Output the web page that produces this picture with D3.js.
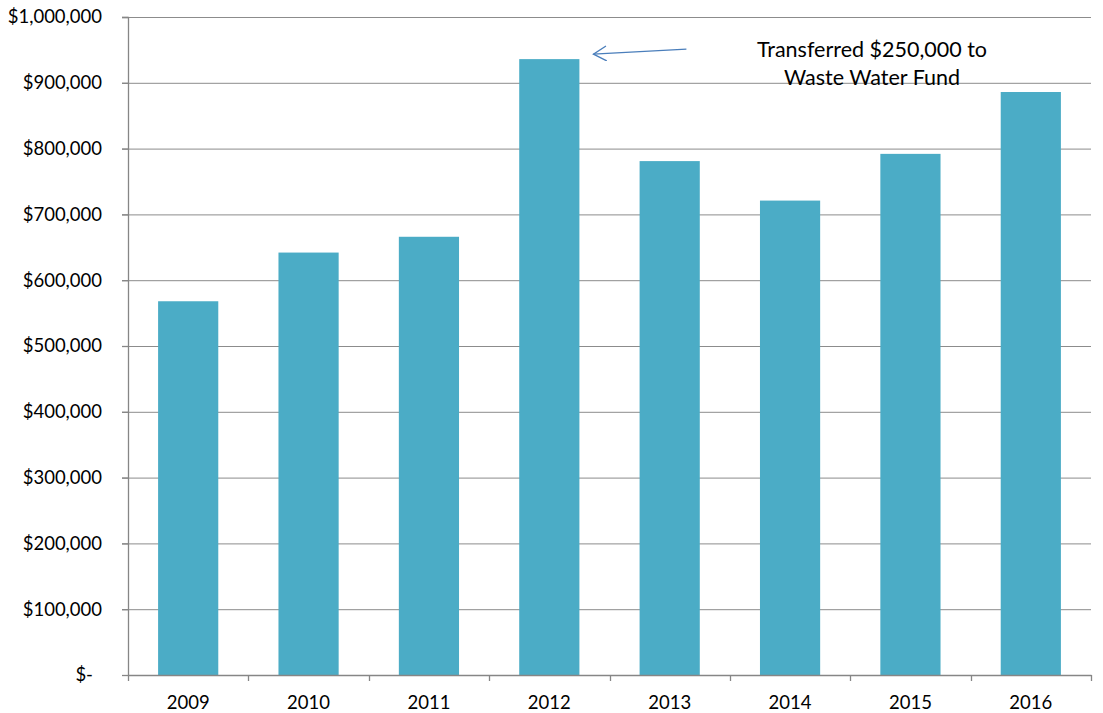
<!DOCTYPE html>
<html>
<head>
<meta charset="utf-8">
<script src="https://cdn.jsdelivr.net/npm/d3@7"></script>
<style>
  body { margin: 0; background: #fff; }
  text { font-family: Lato, "Open Sans", sans-serif; fill: #000; }
</style>
</head>
<body>
<script>
// chart data
var years = ["2009", "2010", "2011", "2012", "2013", "2014", "2015", "2016"];
var balances = [568000, 642000, 666000, 936000, 781000, 721000, 792000, 886000];
var yTicks = [0, 100000, 200000, 300000, 400000, 500000, 600000, 700000, 800000, 900000, 1000000];
var noteLines = ["Transferred $250,000 to", "Waste Water Fund"];

var width = 1103;
var height = 713;
var margin = { top: 17, right: 12, bottom: 38, left: 128 };

var svg = d3.select("body")
    .append("svg")
    .attr("width", width)
    .attr("height", height);

var innerW = width - margin.left - margin.right;
var innerH = height - margin.top - margin.bottom;

var g = svg.append("g")
    .attr("transform", "translate(" + margin.left + "," + margin.top + ")");

var x = d3.scaleBand()
    .domain(years)
    .range([0, innerW])
    .paddingInner(0.5)
    .paddingOuter(0.25);

var y = d3.scaleLinear()
    .domain([0, 1000000])
    .range([innerH, 0]);

var fmt = d3.format(",");

// gridlines
g.selectAll(".grid")
    .data(yTicks.slice(1))
    .enter()
    .append("line")
    .attr("x1", -6)
    .attr("x2", innerW)
    .attr("y1", function(d) { return y(d) + 0.5; })
    .attr("y2", function(d) { return y(d) + 0.5; })
    .style("stroke", "#8c8c8c")
    .style("stroke-width", 1);

// bars
g.selectAll(".bar")
    .data(balances)
    .enter()
    .append("rect")
    .attr("class", "bar")
    .attr("x", function(d, i) { return x(years[i]); })
    .attr("width", x.bandwidth())
    .attr("y", function(d) { return y(d); })
    .attr("height", function(d) { return innerH - y(d); })
    .style("fill", "#4bacc6");

// y axis
var yAxis = g.append("g")
    .call(d3.axisLeft(y)
        .tickValues(yTicks)
        .tickSize(6)
        .tickPadding(20)
        .tickFormat(function(d) { return d === 0 ? "$-" : "$" + fmt(d); }));

yAxis.selectAll("text")
    .style("font-size", "18.5px")
    .attr("dx", function(d) { return d === 0 ? -9 : 0; });

// x axis, ticks sit on the category boundaries
var xAxis = g.append("g")
    .attr("transform", "translate(0," + innerH + ")")
    .call(d3.axisBottom(x).tickSize(0).tickPadding(21));

xAxis.selectAll("text").style("font-size", "18.5px");

var step = x.step();
xAxis.selectAll(".bound")
    .data(d3.range(years.length + 1))
    .enter()
    .append("line")
    .attr("class", "bound")
    .attr("x1", function(d) { return Math.round(d * step) + 0.5; })
    .attr("x2", function(d) { return Math.round(d * step) + 0.5; })
    .attr("y1", 0)
    .attr("y2", 6);

g.selectAll(".domain, .tick line, .bound")
    .style("stroke", "#868686")
    .style("stroke-width", 1.3);
yAxis.select(".domain").attr("d", "M-6,0.5H0.5V" + innerH);

// annotation arrow pointing at the 2012 bar
svg.append("defs").append("marker")
    .attr("id", "arrow")
    .attr("viewBox", "-14 -8 16 16")
    .attr("refX", 0)
    .attr("refY", 0)
    .attr("markerWidth", 16)
    .attr("markerHeight", 16)
    .attr("markerUnits", "userSpaceOnUse")
    .attr("orient", "auto")
    .append("path")
    .attr("d", "M-13,-7.5 L0,0 L-13,7.5")
    .style("fill", "none")
    .style("stroke", "#4a7ebb")
    .style("stroke-width", 1.3);

var tipX = x("2012") + x.bandwidth() + 14;
var tipY = y(balances[3]) - 5;
svg.append("line")
    .attr("x1", margin.left + tipX + 93)
    .attr("y1", margin.top + tipY - 5)
    .attr("x2", margin.left + tipX)
    .attr("y2", margin.top + tipY)
    .attr("marker-end", "url(#arrow)")
    .style("stroke", "#4a7ebb")
    .style("stroke-width", 1.3);

svg.selectAll(".note")
    .data(noteLines)
    .enter()
    .append("text")
    .attr("x", 872)
    .attr("y", function(d, i) { return 57 + i * 28; })
    .attr("text-anchor", "middle")
    .style("font-size", "21.5px")
    .text(function(d) { return d; });
</script>
</body>
</html>
